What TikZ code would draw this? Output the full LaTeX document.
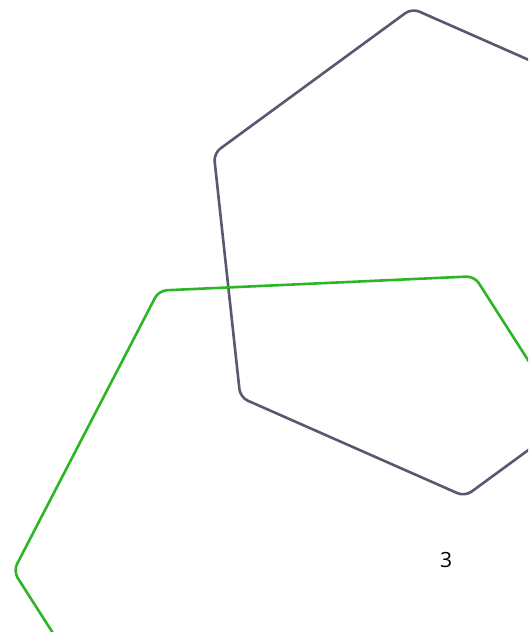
\documentclass[tikz,border=0pt]{standalone}
\usepackage{fontspec}
\setsansfont{Open Sans}
\usepackage{xcolor}
\usepackage{tikz}
\usetikzlibrary{positioning,calc}

\definecolor{hexgray}{RGB}{88,88,112}
\definecolor{hexgreen}{RGB}{44,182,38}

\begin{document}
\begin{tikzpicture}[
				x=1pt, y=-1pt,
				font=\sffamily\fontsize{21}{25}\selectfont,
				hexline/.style={
					line width=2.6pt,
					rounded corners=8pt,
					line join=round
				}
				]
				\useasboundingbox (0,0) rectangle (528,632);
				\clip (0,0) rectangle (528,632);
				
				% centres of the two hexagons
				\coordinate (cg) at (438.4,252.4);
				\coordinate (cn) at (329,556.8);
				
				\foreach \k in {0,...,5} {
					\coordinate (g\k) at ($(cg)+({263.8+60*\k}:245.5)$);
					\coordinate (n\k) at ($(cn)+({297.4+60*\k}:316)$);
				}
				
				\draw[hexline, draw=hexgray] (g0) -- (g1) -- (g2) -- (g3) -- (g4) -- (g5) -- cycle;
				\draw[hexline, draw=hexgreen] (n0) -- (n1) -- (n2) -- (n3) -- (n4) -- (n5) -- cycle;
				
				\node (lbl) at (446,560) {3};
			\end{tikzpicture}
\end{document}
